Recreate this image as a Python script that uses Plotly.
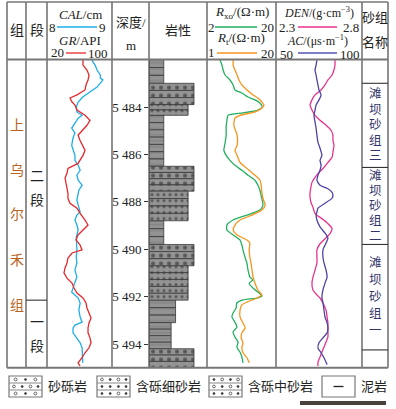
import plotly.graph_objects as go
import numpy as np

W, H = 396, 409
def px(x):
    return x / W
def py(y):
    return 1 - y / H

# ---------------- data ----------------
depth_min, depth_max = 5482.0, 5495.0
depth_ticks = [5484, 5486, 5488, 5490, 5492, 5494]
depth_ticktext = ["5 484", "5 486", "5 488", "5 490", "5 492", "5 494"]

gr_depth = [5482.02, 5482.23, 5482.44, 5482.65, 5482.86, 5483.07, 5483.28, 5483.49, 5483.62, 5483.79,
            5483.92, 5484.13, 5484.35, 5484.56, 5484.77, 5484.98, 5485.19, 5485.40, 5485.62, 5485.83,
            5486.04, 5486.25, 5486.38, 5486.59, 5486.80, 5487.00, 5487.21, 5487.43, 5487.64, 5487.85,
            5488.06, 5488.27, 5488.48, 5488.77, 5488.98, 5489.19, 5489.40, 5489.61, 5489.82, 5490.03,
            5490.16, 5490.37, 5490.58, 5490.79, 5491.00, 5491.22, 5491.43, 5491.64, 5491.85, 5492.06,
            5492.27, 5492.48, 5492.69, 5492.90, 5493.11, 5493.32, 5493.53, 5493.74, 5493.95, 5494.16,
            5494.37, 5494.58, 5494.79, 5494.93]
gr = [64.3, 64.3, 69.2, 71.7, 70.5, 68.0, 66.8, 56.9, 48.3, 50.8,
      54.5, 56.9, 66.8, 72.9, 69.2, 63.1, 58.2, 60.6, 64.3, 66.8,
      64.3, 60.6, 58.2, 45.8, 44.6, 42.2, 43.4, 44.6, 45.8, 45.8,
      48.3, 56.9, 60.6, 66.8, 70.5, 64.3, 58.2, 55.7, 60.6, 63.1,
      50.8, 45.8, 44.6, 42.2, 40.9, 44.6, 50.8, 53.2, 56.9, 64.3,
      68.0, 69.2, 71.7, 74.2, 71.7, 70.5, 70.5, 72.9, 74.2, 71.7,
      66.8, 63.1, 58.2, 60.6]

cal_depth = [5482.02, 5482.23, 5482.44, 5482.65, 5482.78, 5482.86, 5482.99, 5483.16, 5483.37, 5483.58,
             5483.79, 5484.00, 5484.21, 5484.35, 5484.47, 5484.68, 5484.89, 5485.10, 5485.31, 5485.62,
             5485.83, 5486.04, 5486.25, 5486.46, 5486.67, 5486.88, 5487.09, 5487.30, 5487.51, 5487.72,
             5487.92, 5488.14, 5488.43, 5488.56, 5488.77, 5488.98, 5489.19, 5489.49, 5489.74, 5490.03,
             5490.33, 5490.58, 5490.88, 5491.18, 5491.39, 5491.60, 5491.81, 5491.93, 5492.06, 5492.27,
             5492.57, 5492.86, 5493.08, 5493.20, 5493.33, 5493.53, 5493.74, 5493.95, 5494.16, 5494.37,
             5494.58, 5494.79]
cal = [8.69, 8.74, 8.77, 8.82, 8.82, 8.86, 8.82, 8.77, 8.66, 8.55,
       8.48, 8.45, 8.46, 8.54, 8.48, 8.43, 8.38, 8.43, 8.40, 8.38,
       8.40, 8.43, 8.43, 8.48, 8.51, 8.46, 8.48, 8.54, 8.49, 8.48,
       8.46, 8.48, 8.51, 8.46, 8.43, 8.46, 8.48, 8.45, 8.46, 8.46,
       8.45, 8.46, 8.43, 8.46, 8.43, 8.40, 8.38, 8.43, 8.48, 8.51,
       8.49, 8.51, 8.54, 8.43, 8.40, 8.40, 8.46, 8.51, 8.54, 8.54,
       8.55, 8.55]

rxo_depth = [5482.02, 5482.23, 5482.44, 5482.65, 5482.86, 5483.07, 5483.28, 5483.41, 5483.58, 5483.70,
             5483.83, 5484.00, 5484.13, 5484.25, 5484.35, 5484.56, 5484.84, 5485.19, 5485.53, 5485.83,
             5486.04, 5486.25, 5486.46, 5486.67, 5486.88, 5487.09, 5487.30, 5487.51, 5487.72, 5487.92,
             5488.14, 5488.35, 5488.56, 5488.77, 5488.98, 5489.19, 5489.40, 5489.61, 5489.82, 5490.03,
             5490.33, 5490.58, 5490.88, 5491.18, 5491.30, 5491.43, 5491.64, 5491.85, 5491.97, 5492.06,
             5492.14, 5492.27, 5492.48, 5492.69, 5492.86, 5493.08, 5493.29, 5493.49, 5493.71, 5493.92,
             5494.13, 5494.34, 5494.55, 5494.80]
rxo = [5.4, 5.9, 6.2, 6.7, 8.0, 8.8, 9.3, 11.1, 12.7, 14.5,
       15.8, 16.4, 15.3, 11.4, 7.5, 7.2, 7.0, 7.0, 6.7, 6.4,
       7.0, 8.0, 9.3, 11.1, 12.7, 14.5, 15.3, 15.8, 16.1, 16.4,
       16.6, 15.8, 12.4, 8.8, 7.2, 7.2, 8.8, 10.6, 11.1, 11.4,
       11.9, 12.4, 12.7, 13.2, 14.0, 13.0, 14.0, 15.6, 16.4, 15.0,
       11.4, 9.8, 9.6, 8.8, 8.5, 9.3, 9.8, 8.8, 9.3, 10.1,
       9.8, 10.6, 11.1, 11.4]

rt_depth = [5482.02, 5482.23, 5482.44, 5482.65, 5482.86, 5483.07, 5483.28, 5483.49, 5483.62, 5483.79,
            5483.92, 5484.04, 5484.21, 5484.35, 5484.47, 5484.77, 5485.19, 5485.62, 5485.83, 5486.04,
            5486.34, 5486.59, 5486.88, 5487.09, 5487.30, 5487.60, 5487.85, 5488.14, 5488.35, 5488.56,
            5488.77, 5488.98, 5489.19, 5489.40, 5489.61, 5489.74, 5490.03, 5490.33, 5490.58, 5490.88,
            5491.18, 5491.43, 5491.72, 5491.93, 5492.06, 5492.23, 5492.35, 5492.57, 5492.86, 5493.11,
            5493.32, 5493.53, 5493.74, 5493.95, 5494.16, 5494.37, 5494.58, 5494.79]
rt = [8.2, 8.2, 8.7, 9.3, 9.8, 10.6, 12.0, 13.7, 15.0, 16.1,
      16.7, 16.1, 14.2, 10.1, 8.7, 8.4, 9.3, 9.3, 8.7, 9.3,
      10.1, 12.0, 14.2, 15.6, 15.9, 16.1, 16.4, 17.0, 16.1, 13.4,
      10.1, 8.7, 8.2, 9.3, 12.0, 12.8, 12.6, 12.8, 13.1, 13.4,
      13.7, 14.2, 15.0, 16.1, 14.8, 12.0, 10.6, 10.1, 10.1, 10.9,
      11.5, 10.6, 10.4, 10.9, 10.6, 10.9, 12.0, 12.6]

den_depth = [5482.02, 5482.23, 5482.44, 5482.65, 5482.86, 5483.07, 5483.28, 5483.49, 5483.70, 5483.92,
             5484.13, 5484.35, 5484.56, 5484.77, 5484.98, 5485.19, 5485.40, 5485.62, 5485.91, 5486.12,
             5486.34, 5486.55, 5486.76, 5486.97, 5487.18, 5487.39, 5487.60, 5487.81, 5488.02, 5488.23,
             5488.50, 5488.71, 5488.92, 5489.13, 5489.34, 5489.56, 5489.77, 5490.03, 5490.33, 5490.58,
             5490.88, 5491.18, 5491.43, 5491.72, 5491.93, 5492.06, 5492.27, 5492.57, 5492.86, 5493.11,
             5493.41, 5493.70, 5493.92, 5494.13, 5494.34, 5494.55, 5494.76, 5494.93]
den = [2.643, 2.643, 2.637, 2.626, 2.602, 2.585, 2.562, 2.527, 2.509, 2.498,
       2.509, 2.527, 2.556, 2.591, 2.620, 2.631, 2.631, 2.637, 2.631, 2.626,
       2.602, 2.579, 2.550, 2.527, 2.509, 2.503, 2.498, 2.498, 2.503, 2.515,
       2.527, 2.567, 2.602, 2.626, 2.614, 2.585, 2.556, 2.538, 2.538, 2.538,
       2.527, 2.515, 2.509, 2.515, 2.538, 2.556, 2.573, 2.591, 2.597, 2.602,
       2.602, 2.602, 2.591, 2.579, 2.567, 2.556, 2.544, 2.544]

ac_depth = [5482.02, 5482.23, 5482.44, 5482.65, 5482.86, 5483.07, 5483.28, 5483.49, 5483.70, 5483.92,
            5484.13, 5484.35, 5484.64, 5484.89, 5485.19, 5485.49, 5485.74, 5486.04, 5486.25, 5486.46,
            5486.67, 5486.88, 5487.09, 5487.30, 5487.43, 5487.60, 5487.72, 5487.85, 5488.06, 5488.27,
            5488.43, 5488.56, 5488.77, 5489.06, 5489.32, 5489.53, 5489.74, 5490.03, 5490.33, 5490.58,
            5490.88, 5491.18, 5491.43, 5491.72, 5492.02, 5492.27, 5492.57, 5492.86, 5493.11, 5493.32,
            5493.53, 5493.74, 5493.95, 5494.16, 5494.37, 5494.58, 5494.87]
ac = [73.8, 73.3, 72.7, 73.3, 73.8, 74.4, 75.0, 76.2, 75.0, 73.3,
      72.7, 72.1, 72.7, 73.3, 73.8, 74.4, 75.6, 76.7, 75.6, 76.2,
      75.6, 74.4, 73.8, 75.6, 79.7, 82.6, 83.1, 82.6, 78.5, 74.4,
      73.8, 73.3, 73.8, 75.6, 78.5, 80.2, 79.1, 77.3, 77.3, 77.9,
      79.1, 79.7, 78.5, 77.3, 76.7, 77.3, 77.9, 78.5, 79.7, 80.2,
      79.7, 77.3, 75.0, 74.4, 76.2, 77.9, 79.7]

# lithology units (top depth, rock type, grain-size column width code)
lith_top = [5482.0, 5483.0, 5483.9, 5484.35, 5486.5, 5487.55, 5488.8, 5489.8, 5490.7, 5492.15, 5493.1, 5494.2]
lith_type = ["泥岩", "砂砾岩", "含砾中砂岩", "泥岩", "砂砾岩", "含砾中砂岩",
             "泥岩", "砂砾岩", "含砾中砂岩", "泥岩", "泥岩", "砂砾岩"]
lith_size = [1.0, 3.05, 2.65, 1.0, 3.05, 2.65, 1.0, 3.05, 2.65, 1.8, 1.5, 3.05]
lith_bottom = lith_top[1:] + [depth_max]

formation = ["上", "乌", "尔", "禾", "组"]
members = ["二段", "一段"]
member_boundary = 5492.15
sand_groups = ["滩坝砂组三", "滩坝砂组二", "滩坝砂组一"]
sand_tops = [5483.0, 5486.55, 5489.8]
sand_bottoms = [5486.55, 5489.8, 5494.25]
legend_names = ["砂砾岩", "含砾细砂岩", "含砾中砂岩", "泥岩"]

# ---------------- styles ----------------
C_CAL = "#1eaee8"
C_GR = "#e8282c"
C_RXO = "#22b060"
C_RT = "#f7941d"
C_DEN = "#e8338c"
C_AC = "#4c43a6"
SERIF = "Liberation Serif, Noto Sans CJK SC"
GRID = "#6f6f6f"

# column pixel edges
X_COLS = [7, 26, 47, 112, 149, 207, 276, 362, 388]
Y_TOP, Y_HEAD, Y_BOT = 2, 59.6, 367.7

fig = go.Figure()
lw = 1.3
fig.add_trace(go.Scatter(x=cal, y=cal_depth, xaxis="x", yaxis="y", mode="lines",
                         line=dict(color=C_CAL, width=lw)))
fig.add_trace(go.Scatter(x=gr, y=gr_depth, xaxis="x2", yaxis="y", mode="lines",
                         line=dict(color=C_GR, width=lw)))
fig.add_trace(go.Scatter(x=rxo, y=rxo_depth, xaxis="x4", yaxis="y", mode="lines",
                         line=dict(color=C_RXO, width=lw, shape="spline", smoothing=0.6)))
fig.add_trace(go.Scatter(x=rt, y=rt_depth, xaxis="x5", yaxis="y", mode="lines",
                         line=dict(color=C_RT, width=lw, shape="spline", smoothing=0.6)))
fig.add_trace(go.Scatter(x=den, y=den_depth, xaxis="x6", yaxis="y", mode="lines",
                         line=dict(color=C_DEN, width=lw, shape="spline", smoothing=0.6)))
fig.add_trace(go.Scatter(x=ac, y=ac_depth, xaxis="x7", yaxis="y", mode="lines",
                         line=dict(color=C_AC, width=lw, shape="spline", smoothing=0.6)))

# lithology column: each unit drawn as thin stacked beds
patterns = {
    "泥岩": dict(shape="-", fgcolor="#555555", size=6, solidity=0.12),
    "砂砾岩": dict(shape=".", fgcolor="#1a1a1a", size=8, solidity=0.22),
    "含砾中砂岩": dict(shape=".", fgcolor="#1a1a1a", size=6, solidity=0.22),
}
for kind in patterns:
    xs, ys, ws = [], [], []
    for t, b, k, s in zip(lith_top, lith_bottom, lith_type, lith_size):
        if k != kind:
            continue
        n = max(1, int(round((b - t) / 0.29)))
        edges = np.linspace(t, b, n + 1)
        for e0, e1 in zip(edges[:-1], edges[1:]):
            xs.append(s)
            ys.append((e0 + e1) / 2)
            ws.append(e1 - e0)
    fig.add_trace(go.Bar(x=xs, y=ys, width=ws, base=0, orientation="h",
                         xaxis="x3", yaxis="y",
                         marker=dict(color="#939393", line=dict(color="#3a3a3a", width=0.8),
                                     pattern=dict(bgcolor="#939393", **patterns[kind]))))

ydom = [py(Y_BOT), py(Y_HEAD)]
hidden = dict(visible=False, showgrid=False, zeroline=False, fixedrange=True)
fig.update_layout(
    width=W, height=H, margin=dict(l=0, r=0, t=0, b=0),
    paper_bgcolor="white", plot_bgcolor="rgba(0,0,0,0)",
    showlegend=False, barmode="overlay",
    font=dict(family=SERIF, size=13, color="#222"),
    xaxis=dict(domain=[px(47), px(112)], range=[8, 9], anchor="y", **hidden),
    xaxis2=dict(range=[20, 100], overlaying="x", anchor="y", **hidden),
    xaxis3=dict(domain=[px(149), px(207)], range=[0, 3.93], anchor="y", **hidden),
    xaxis4=dict(domain=[px(207), px(276)], range=[2, 20], anchor="y", **hidden),
    xaxis5=dict(range=[1, 20], overlaying="x4", anchor="y", **hidden),
    xaxis6=dict(domain=[px(276), px(362)], range=[2.3, 2.8], anchor="y", **hidden),
    xaxis7=dict(range=[50, 100], overlaying="x6", anchor="y", **hidden),
    yaxis=dict(domain=ydom, range=[depth_max, depth_min], anchor="x3", side="left",
               tickvals=depth_ticks, ticktext=depth_ticktext, ticks="outside", ticklen=4,
               tickwidth=1, tickcolor="#333", showgrid=False, zeroline=False, showline=False,
               tickfont=dict(family=SERIF, size=13, color="#222"), fixedrange=True),
)

shapes = []
def line(x0, y0, x1, y1, color=GRID, width=1.3):
    shapes.append(dict(type="line", xref="paper", yref="paper", x0=px(x0), y0=py(y0),
                       x1=px(x1), y1=py(y1), line=dict(color=color, width=width)))

# table frame
for xc in X_COLS:
    line(xc, Y_TOP, xc, Y_BOT, color="#555", width=1.3)
line(X_COLS[0], Y_TOP, X_COLS[-1], Y_TOP, color="#777", width=1.6)
line(X_COLS[0], Y_HEAD, X_COLS[-1], Y_HEAD, color="#777", width=2)
line(X_COLS[0], Y_BOT, X_COLS[-1], Y_BOT, color="#777", width=2)

def depth_to_y(d):
    return Y_HEAD + (d - depth_min) / (depth_max - depth_min) * (Y_BOT - Y_HEAD)

# member boundary
line(26, depth_to_y(member_boundary), 47, depth_to_y(member_boundary), color="#333", width=1.1)
# sand group boundaries
for d in sorted(set(sand_tops + sand_bottoms)):
    line(362, depth_to_y(d), 388, depth_to_y(d), color="#333", width=1.1)

# header sample lines
line(57, 27, 97, 27, C_CAL, 1.3)
line(66, 53, 86, 53, C_GR, 1.3)
line(215, 27, 257, 27, C_RXO, 1.3)
line(217, 53, 257, 53, C_RT, 1.3)
line(298, 27, 337, 27, C_DEN, 1.3)
line(298, 53, 337, 53, "#7f7fc8", 2)

ann = []
def text(x, y, s, size=13, color="#222", xanchor="center"):
    ann.append(dict(x=px(x), y=py(y), xref="paper", yref="paper", text=s, showarrow=False,
                    xanchor=xanchor, yanchor="middle", font=dict(size=size, color=color, family=SERIF)))

text(16.5, 31, "组", 14)
text(36.5, 31, "段", 14)
text(80, 14, "<i>CAL</i>/cm")
text(52, 27, "8")
text(102, 27, "9")
text(80, 40, "<i>GR</i>/API")
text(57, 53, "20")
text(98, 53.5, "100")
text(130.5, 22, "深度/")
text(130.5, 45, "m")
text(178, 31, "岩性")
text(242, 13, "<i>R</i><sub>xo</sub>/(Ω·m)")
text(211, 27, "2")
text(267, 27.5, "20")
text(241, 39, "<i>R</i><sub>t</sub>/(Ω·m)")
text(211, 53, "1")
text(267, 53.5, "20")
text(319, 13, "<i>DEN</i>/(g·cm<sup>−3</sup>)", 12)
text(287, 27, "2.3")
text(351, 27, "2.8")
text(317, 41, "<i>AC</i>/(μs·m<sup>−1</sup>)", 12)
text(286, 54, "50")
text(350, 54, "100")
text(375, 17, "砂组", 13)
text(375, 43, "名称", 13)

# formation column
form_y = [125, 170, 214, 260, 305]
for ch, yy in zip(formation, form_y):
    text(16.5, yy, ch, 14, color="#b8641e")
# member column
for ch, yy in zip(list(members[0]), [176, 200]):
    text(36.5, yy, ch, 14)
for ch, yy in zip(list(members[1]), [322, 346]):
    text(36.5, yy, ch, 14)
# sand groups
spacing = [15.5, 15, 17]
for name, t, b, sp in zip(sand_groups, sand_tops, sand_bottoms, spacing):
    yc = (depth_to_y(t) + depth_to_y(b)) / 2
    for i, ch in enumerate(name):
        text(375, yc + (i - 2) * sp, ch, 12.5, color="#34346a")

# bottom legend
box_x = [9, 97, 209, 322]
bw = 33
by0, by1 = 376, 397
dots = {
    0: [[("o", 0.2), ("d", 0.5), ("o", 0.8)], [("o", 0.15), ("d", 0.4), ("o", 0.65), ("d", 0.88)], [("o", 0.2), ("d", 0.5), ("o", 0.8)]],
    1: [[("o", 0.15), ("d", 0.4), ("o", 0.65), ("d", 0.88)], [("d", 0.15), ("d", 0.4), ("d", 0.65), ("d", 0.88)], [("d", 0.15), ("d", 0.4), ("o", 0.65), ("d", 0.88)]],
    2: [[("d", 0.15), ("o", 0.4), ("d", 0.65), ("o", 0.88)], [("o", 0.15), ("d", 0.4), ("o", 0.65), ("d", 0.88)], [("d", 0.15), ("d", 0.4), ("o", 0.65), ("d", 0.88)]],
}
for i, (bx, name) in enumerate(zip(box_x, legend_names)):
    shapes.append(dict(type="rect", xref="paper", yref="paper", x0=px(bx), x1=px(bx + bw),
                       y0=py(by1), y1=py(by0), line=dict(color="#777", width=1.2), fillcolor="white"))
    if i < 3:
        rh = (by1 - by0) / 3
        line(bx, by0 + rh, bx + bw, by0 + rh, "#888", 1)
        line(bx, by0 + 2 * rh, bx + bw, by0 + 2 * rh, "#888", 1)
        for r, row in enumerate(dots[i]):
            cy = by0 + rh * (r + 0.5)
            for kind, fx in row:
                cx = bx + bw * fx
                rr = 1.4 if kind == "o" else 1.0
                shapes.append(dict(type="circle", xref="paper", yref="paper",
                                   x0=px(cx - rr), x1=px(cx + rr), y0=py(cy + rr), y1=py(cy - rr),
                                   line=dict(color="#444", width=0.8),
                                   fillcolor="white" if kind == "o" else "#333"))
    else:
        line(bx + bw / 2 - 5, (by0 + by1) / 2, bx + bw / 2 + 5, (by0 + by1) / 2, "#222", 1.3)
    text(bx + bw + 4, (by0 + by1) / 2, name, 13, xanchor="left")

shapes.append(dict(type="rect", xref="paper", yref="paper", x0=px(300), x1=px(386),
                   y0=py(405), y1=py(401), line=dict(width=0), fillcolor="#4a403c"))

fig.update_layout(shapes=shapes, annotations=ann)
fig.write_html("out.html", config={"responsive": False, "displayModeBar": False},
               post_script="document.body.style.margin='0';document.body.style.padding='0';document.body.style.overflow='hidden';")
